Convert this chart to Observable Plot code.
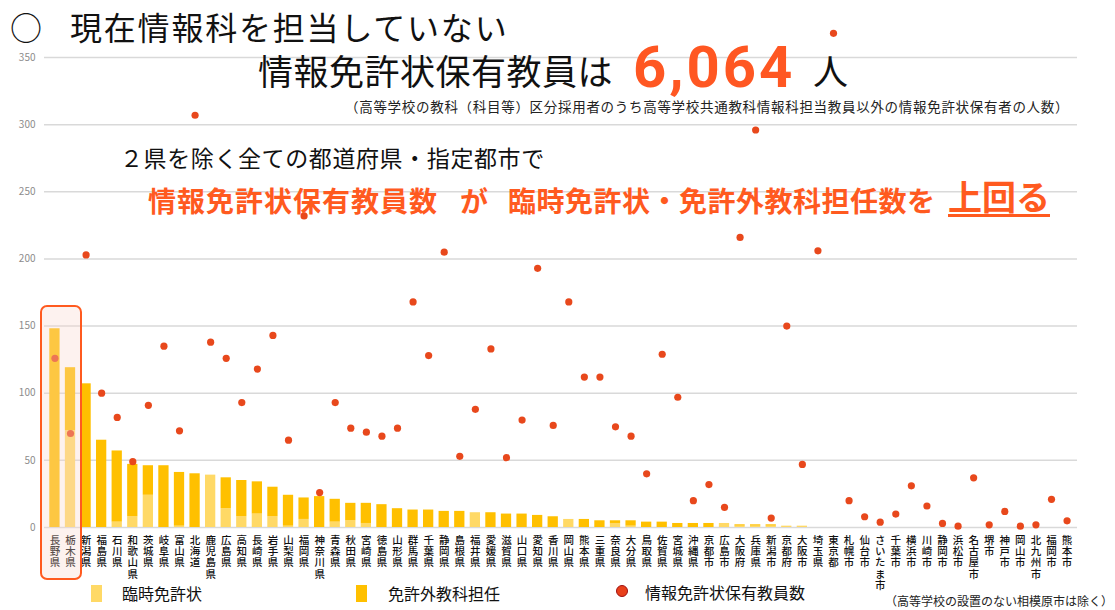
<!DOCTYPE html>
<html><head><meta charset="utf-8">
<script src="https://cdn.jsdelivr.net/npm/d3@7"></script>
<script src="https://cdn.jsdelivr.net/npm/@observablehq/plot@0.6"></script>
<style>
body{margin:0;background:#fff;font-family:"Noto Sans CJK JP",sans-serif;}
#wrap{position:relative;width:1115px;height:610px;overflow:hidden;}
.t{position:absolute;white-space:nowrap;line-height:1;}
#wrap svg{position:absolute;left:0;top:0;}
.vlabel text{writing-mode:vertical-rl;letter-spacing:0.8px;}
</style></head><body><div id="wrap"></div>
<script>
const categories = ["長野県","栃木県","新潟県","福島県","石川県","和歌山県","茨城県","岐阜県","富山県","北海道","鹿児島県","広島県","高知県","長崎県","岩手県","山梨県","福岡県","神奈川県","青森県","秋田県","宮崎県","徳島県","山形県","群馬県","千葉県","静岡県","島根県","福井県","愛媛県","滋賀県","山口県","愛知県","香川県","岡山県","熊本県","三重県","奈良県","大分県","鳥取県","佐賀県","宮城県","沖縄県","京都市","広島市","大阪府","兵庫県","新潟市","京都府","大阪市","埼玉県","東京都","札幌市","仙台市","さいたま市","千葉市","横浜市","川崎市","静岡市","浜松市","名古屋市","堺市","神戸市","岡山市","北九州市","福岡市","熊本市"];
// 臨時免許状
const rinji = [0,72,0,0,4,8,24,0,1,0,39,14,8,10,8,1,6,0,4,5,3,0,0,0,0,0,0,11,0,0,0,0,0,6,0,0,3,1,0,0,0,0,0,3,1,1,1,1,1,0,0,0,0,0,0,0,0,0,0,0,0,0,0,0,0,0];
// 免許外教科担任
const menkyogai = [148,47,107,65,53,39,22,46,40,40,0,23,27,24,22,23,16,23,17,13,15,17,14,13,13,12,12,0,11,10,10,9,8,0,6,5,2,4,4,4,3,3,3,0,1,1,1,0,0,0,0,0,0,0,0,0,0,0,0,0,0,0,0,0,0,0];
// 情報免許状保有教員数
const holders = [126,70,203,100,82,49,91,135,72,307,138,126,93,118,143,65,232,26,93,74,71,68,74,168,128,205,53,88,133,52,80,193,76,168,112,112,75,68,40,129,97,20,32,15,216,296,7,150,47,206,368,20,8,4,10,31,16,3,1,37,2,12,1,2,21,5];
const yTicks = [0,50,100,150,200,250,300,350];
const seriesNames = ["臨時免許状","免許外教科担任"];
const seriesColors = ["#FFD966","#FFC000"];

const rows = categories.map((c,i)=>({c, rinji:rinji[i], menkyogai:menkyogai[i], holders:holders[i]}));
const stacked = rows.flatMap(r=>[{c:r.c,type:seriesNames[0],v:r.rinji},{c:r.c,type:seriesNames[1],v:r.menkyogai}]);

const plot = Plot.plot({
  width:1115, height:610, marginTop:57, marginBottom:83, marginLeft:44, marginRight:38,
  style:{fontFamily:'"Noto Sans CJK JP",sans-serif', background:"transparent", overflow:"visible"},
  x:{domain:categories, padding:0.34, label:null, axis:null},
  y:{domain:[0,350], label:null},
  color:{domain:seriesNames, range:seriesColors},
  marks:[
    Plot.gridY(yTicks,{stroke:"#D9D9D9", strokeOpacity:1, strokeWidth:1.5}),
    Plot.axisY(yTicks,{tickSize:0, tickPadding:9, fontSize:10, fill:"#8c8c8c", label:null}),
    Plot.barY(stacked,{x:"c", y:"v", fill:"type"}),
    Plot.dot(rows,{x:"c", y:"holders", r:3.6, fill:"#E8481C"}),
    Plot.text(categories, {x:d=>d, text:d=>d, frameAnchor:"bottom", textAnchor:"start",
      dy: 7, fontSize:10.5, fill:"#111", fontWeight:500, className:"vlabel"})
  ]
});
const wrap = document.getElementById("wrap");
wrap.appendChild(plot);
// remove Plot's baseline shift for vertical text
plot.querySelectorAll(".vlabel text").forEach(t=>{t.removeAttribute("dy"); t.setAttribute("dominant-baseline","central");});

function add(html, style){const d=document.createElement("div");d.className="t";d.innerHTML=html;Object.assign(d.style,style);wrap.appendChild(d);return d;}
// highlight box
add("",{left:"40px",top:"305px",width:"38px",height:"271px",border:"2px solid #FF5A1F",borderRadius:"7px",background:"rgba(250,215,205,0.32)"});
// titles
add("○",{left:"10px",top:"10px",fontSize:"32px",color:"#111"});
add("現在情報科を担当していない",{left:"70px",top:"10px",fontSize:"32px",color:"#111",letterSpacing:"1.8px"});
add("情報免許状保有教員は",{left:"258px",top:"52px",fontSize:"35px",color:"#111",letterSpacing:"0.5px"});
add("6,064",{left:"633px",top:"38px",fontSize:"58px",fontWeight:"700",color:"#FF5722",fontFamily:"Roboto,sans-serif",letterSpacing:"3px"});
add("人",{left:"813px",top:"52px",fontSize:"35px",color:"#111"});
add("（高等学校の教科（科目等）区分採用者のうち高等学校共通教科情報科担当教員以外の情報免許状保有者の人数）",{left:"345px",top:"100px",fontSize:"13.5px",color:"#222",letterSpacing:"0.7px"});
add("２県を除く全ての都道府県・指定都市で",{left:"120px",top:"146px",fontSize:"23px",color:"#111",letterSpacing:"0.6px"});
add("情報免許状保有教員数",{left:"148px",top:"186px",fontSize:"28px",fontWeight:"700",color:"#FF5A1F",letterSpacing:"1px"});
add("が",{left:"460px",top:"186px",fontSize:"28px",fontWeight:"700",color:"#FF5A1F"});
add("臨時免許状・免許外教科担任数を",{left:"508px",top:"186px",fontSize:"28px",fontWeight:"700",color:"#FF5A1F",letterSpacing:"0.5px"});
add("上回る",{left:"948px",top:"179px",fontSize:"34px",fontWeight:"700",color:"#FF5A1F",textDecoration:"underline",textDecorationThickness:"3px",textUnderlineOffset:"4px"});
// legend
add("",{left:"91px",top:"585px",width:"11px",height:"17px",background:seriesColors[0]});
add(seriesNames[0],{left:"122px",top:"585px",fontSize:"16px",color:"#111"});
add("",{left:"356px",top:"585px",width:"11px",height:"17px",background:seriesColors[1]});
add(seriesNames[1],{left:"388px",top:"585px",fontSize:"16px",color:"#111"});
add("",{left:"616px",top:"585px",width:"10px",height:"10px",borderRadius:"50%",background:"#E8401A",border:"1.5px solid #A01010"});
add("情報免許状保有教員数",{left:"645px",top:"584px",fontSize:"16px",color:"#111"});
add("（高等学校の設置のない相模原市は除く）",{left:"885px",top:"595px",fontSize:"12px",color:"#222"});
</script></body></html>
